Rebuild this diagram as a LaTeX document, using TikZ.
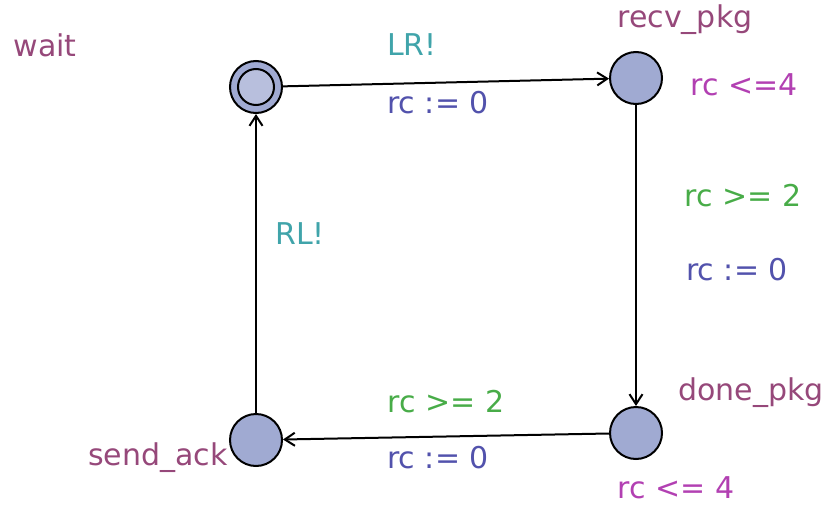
\documentclass[tikz,border=0pt]{standalone}
\usepackage{fontspec}
\setmainfont{DejaVu Sans}
\usetikzlibrary{arrows.meta}
\definecolor{locname}{RGB}{150,72,122}
\definecolor{invcol}{RGB}{178,64,178}
\definecolor{synccol}{RGB}{64,164,170}
\definecolor{guardcol}{RGB}{72,172,72}
\definecolor{updcol}{RGB}{82,82,172}
\definecolor{locfill}{RGB}{160,170,210}
\begin{document}
\begin{tikzpicture}[x=1pt, y=-1pt, >={Straight Barb[length=10pt,width=13pt]},
  loc/.style={circle, draw, line width=2pt, fill=locfill, minimum size=52pt, inner sep=0pt},
  lbl/.style={font=\fontsize{30}{34}\selectfont, inner sep=0pt}]
\useasboundingbox (0,0) rectangle (830,506);

  \node[loc] (wait) at (256,87){};
  \node[circle, draw, line width=2pt, fill=locfill!75!white, minimum size=36pt, inner sep=0pt] at (wait){};
  \node[loc] (recv) at (636,78){};
  \node[loc] (done) at (636,433){};
  \node[loc] (ack) at (256,440){};

  \draw[->, line width=2pt](wait)--(recv);
  \draw[->, line width=2pt](recv)--(done);
  \draw[->, line width=2pt](done)--(ack);
  \draw[->, line width=2pt](ack)--(wait);

\node[lbl, locname] (nwait) at (45,45){wait};
\node[lbl, locname] (nrecv) at (685,20){recv\_pkg};
\node[lbl, locname] (ndone) at (751,393){done\_pkg};
\node[lbl, locname] (nack) at (158,458){send\_ack};

\node[lbl, invcol] (irecv) at (744,85){rc <=4};
\node[lbl, invcol] (idone) at (676,488){rc <= 4};

\node[lbl, synccol] (s1) at (412,45){LR!};
\node[lbl, updcol] (u1) at (438,103){rc := 0};
\node[lbl, guardcol] (g2) at (743,196){rc >= 2};
\node[lbl, updcol] (u2) at (737,270){rc := 0};
\node[lbl, guardcol] (g3) at (446,402){rc >= 2};
\node[lbl, updcol] (u3) at (438,458){rc := 0};
\node[lbl, synccol] (s4) at (300,234){RL!};

\end{tikzpicture}
\end{document}
